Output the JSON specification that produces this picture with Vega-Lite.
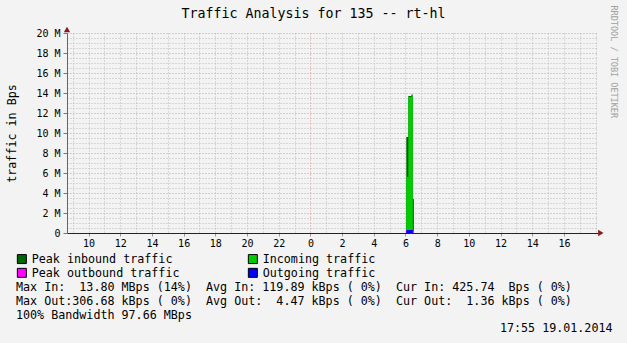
{
  "$schema": "https://vega.github.io/schema/vega-lite/v6.json",
  "width": 531,
  "height": 200,
  "autosize": {"type": "none"},
  "padding": {"left": 67, "top": 33, "right": 29, "bottom": 110},
  "background": "#f3f3f3",
  "config": {
    "view": {"stroke": null},
    "font": "DejaVu Sans Mono",
    "axis": {"labelFont": "DejaVu Sans Mono", "titleFont": "DejaVu Sans Mono", "labelColor": "#000", "titleColor": "#000", "titleFontWeight": "normal"},
    "legend": {"labelFont": "DejaVu Sans Mono", "titleFont": "DejaVu Sans Mono"}
  },
  "title": {
    "text": "Traffic Analysis for 135 -- rt-hl",
    "font": "DejaVu Sans Mono",
    "fontSize": 13.3,
    "fontWeight": "normal",
    "color": "#000",
    "anchor": "middle",
    "frame": "group",
    "dx": -19,
    "dy": 15,
    "offset": 0
  },
  "data": {
    "values": [
      {"t": 8.6, "peak_in": 0, "in": 0, "peak_out": 0, "out": 0},
      {"t": 30.05, "peak_in": 9600000, "in": 5600000, "peak_out": 310000, "out": 280000},
      {"t": 30.18, "peak_in": 13700000, "in": 13600000, "peak_out": 310000, "out": 300000},
      {"t": 30.38, "peak_in": 13850000, "in": 13800000, "peak_out": 306680, "out": 300000},
      {"t": 30.46, "peak_in": 3400000, "in": 200000, "peak_out": 0, "out": 0},
      {"t": 30.53, "peak_in": 0, "in": 0, "peak_out": 0, "out": 0},
      {"t": 42.15, "peak_in": 0, "in": 0, "peak_out": 0, "out": 0}
    ]
  },
  "resolve": {"axis": {"x": "independent", "y": "independent"}},
  "layer": [
    {
      "mark": {"type": "area", "interpolate": "step-after"},
      "encoding": {
        "x": {
          "field": "t", "type": "quantitative",
          "scale": {"domain": [8.64, 42.15], "nice": false, "zero": false},
          "axis": {"orient": "bottom", "values": [9,10,11,12,13,14,15,16,17,18,19,20,21,22,23,25,26,27,28,29,30,31,32,33,34,35,36,37,38,39,40,41,42], "labels": false, "ticks": false, "domain": false, "grid": true, "gridColor": "#b9b9b9", "gridDash": [1,2], "gridWidth": 1, "title": null}
        },
        "y": {
          "field": "peak_in", "type": "quantitative", "stack": null,
          "scale": {"domain": [0, 20000000], "nice": false},
          "axis": {"orient": "left", "values": [500000,1000000,1500000,2500000,3000000,3500000,4500000,5000000,5500000,6500000,7000000,7500000,8500000,9000000,9500000,10500000,11000000,11500000,12500000,13000000,13500000,14500000,15000000,15500000,16500000,17000000,17500000,18500000,19000000,19500000], "labels": false, "ticks": false, "domain": false, "grid": true, "gridColor": "#b9b9b9", "gridDash": [1,2], "title": null}
        },
        "color": {
          "datum": "Peak inbound traffic",
          "scale": {
            "domain": ["Peak inbound traffic", "Incoming traffic", "Peak outbound traffic", "Outgoing traffic"],
            "range": ["#006600", "#00cc00", "#ff00ff", "#0000ff"]
          },
          "legend": {
            "orient": "none",
            "legendX": -51,
            "legendY": 220,
            "columns": 2,
            "direction": "horizontal",
            "symbolType": "square",
            "symbolSize": 81,
            "symbolStrokeWidth": 1,
            "labelFontSize": 11.7,
            "labelColor": "#000",
            "labelOffset": 4,
            "labelLimit": 400,
            "columnPadding": 66,
            "rowPadding": 0,
            "padding": 0,
            "encode": {"symbols": {"update": {"stroke": {"value": "#000"}, "strokeWidth": {"value": 1}}}},
            "title": [
              "Max\u00a0In:\u00a0\u00a013.80\u00a0MBps\u00a0(14%)\u00a0\u00a0Avg\u00a0In:\u00a0119.89\u00a0kBps\u00a0(\u00a00%)\u00a0\u00a0Cur\u00a0In:\u00a0425.74\u00a0\u00a0Bps\u00a0(\u00a00%)",
              "Max\u00a0Out:306.68\u00a0kBps\u00a0(\u00a00%)\u00a0\u00a0Avg\u00a0Out:\u00a0\u00a04.47\u00a0kBps\u00a0(\u00a00%)\u00a0\u00a0Cur\u00a0Out:\u00a0\u00a01.36\u00a0kBps\u00a0(\u00a00%)",
              "100%\u00a0Bandwidth\u00a097.66\u00a0MBps"
            ],
            "titleOrient": "bottom",
            "titleAnchor": "start",
            "titleAlign": "left",
            "titleBaseline": "top",
            "titleFontSize": 11.7,
            "titleFontWeight": "normal",
            "titleColor": "#000",
            "titleLineHeight": 14,
            "titleLimit": 700,
            "titlePadding": 2
          }
        }
      }
    },
    {
      "mark": {"type": "area", "interpolate": "step-after"},
      "encoding": {
        "x": {
          "field": "t", "type": "quantitative",
          "axis": {"orient": "bottom", "values": [10,12,14,16,18,20,22,24,26,28,30,32,34,36,38,40], "labelExpr": "(datum.value % 24 < 10 ? '\u00a0' : '') + (datum.value % 24)", "labelFontSize": 10, "labelPadding": 2, "ticks": true, "tickSize": 3, "tickColor": "#999", "domain": true, "domainColor": "#1a1a70", "domainWidth": 1, "grid": false,
            "title": "17:55 19.01.2014", "titleFontSize": 11.7, "titleX": 545, "titleY": 98, "titleAlign": "right", "titleBaseline": "alphabetic", "titleAnchor": null}
        },
        "y": {
          "field": "in", "type": "quantitative", "stack": null,
          "axis": {"orient": "left", "values": [0,2000000,4000000,6000000,8000000,10000000,12000000,14000000,16000000,18000000,20000000], "labelExpr": "datum.value == 0 ? '0\u00a0\u00a0' : (datum.value / 1000000) + '\u00a0M'", "labelFontSize": 10, "labelPadding": 3, "ticks": true, "tickSize": 4, "tickColor": "#777", "domain": true, "domainColor": "#666", "grid": true, "gridColor": "#dc9494", "gridDash": [1,2],
            "title": "traffic in Bps", "titleFontSize": 11.7, "titlePadding": 18}
        },
        "color": {"datum": "Incoming traffic"}
      }
    },
    {
      "mark": {"type": "area", "interpolate": "step-after"},
      "encoding": {
        "x": {
          "field": "t", "type": "quantitative",
          "axis": {"orient": "bottom", "values": [24], "labels": false, "ticks": false, "domain": false, "grid": true, "gridColor": "#dc9494", "gridDash": [1,2], "title": null}
        },
        "y": {
          "field": "peak_out", "type": "quantitative", "stack": null,
          "axis": {"orient": "right", "values": [0], "labels": false, "ticks": false, "domain": false, "grid": false,
            "title": "RRDTOOL / TOBI OETIKER", "titleFontSize": 8.5, "titleColor": "#a0a0a0", "titleAngle": 90, "titleX": 15, "titleY": -28, "titleAlign": "left", "titleBaseline": "middle", "titleAnchor": null}
        },
        "color": {"datum": "Peak outbound traffic"}
      }
    },
    {
      "mark": {"type": "area", "interpolate": "step-after"},
      "encoding": {
        "x": {"field": "t", "type": "quantitative", "axis": null},
        "y": {"field": "out", "type": "quantitative", "stack": null, "axis": null},
        "color": {"datum": "Outgoing traffic"}
      }
    },
    {
      "data": {"values": [{"arrow": "y"}]},
      "mark": {"type": "point", "shape": "triangle-up", "filled": true, "size": 40, "color": "#8b1a1a", "opacity": 1},
      "encoding": {
        "x": {"datum": 8.64, "type": "quantitative", "axis": null},
        "y": {"datum": 20350000, "type": "quantitative", "axis": null}
      }
    },
    {
      "data": {"values": [{"arrow": "x"}]},
      "mark": {"type": "point", "shape": "triangle-right", "filled": true, "size": 40, "color": "#8b1a1a", "opacity": 1},
      "encoding": {
        "x": {"datum": 42.33, "type": "quantitative", "axis": null},
        "y": {"datum": 0, "type": "quantitative", "axis": null}
      }
    }
  ]
}
